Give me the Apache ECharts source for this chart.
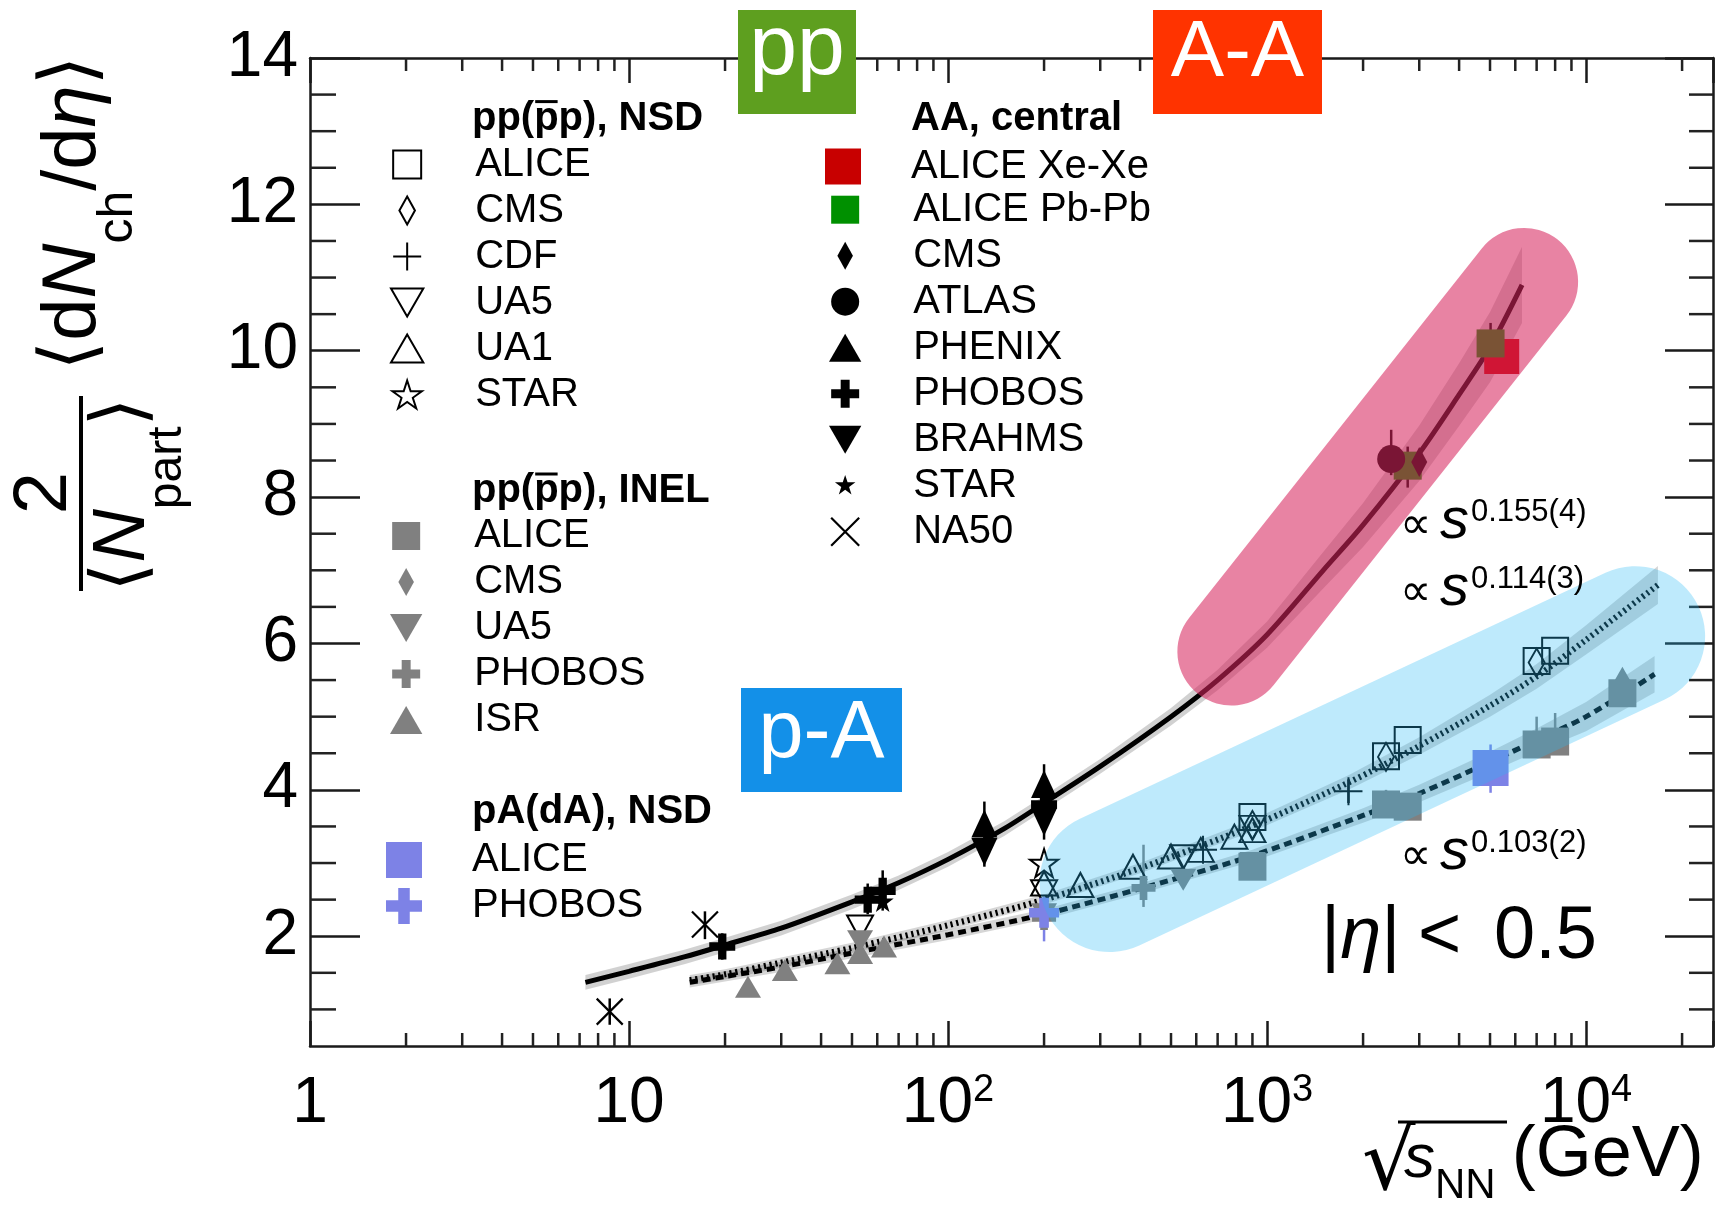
<!DOCTYPE html>
<html><head><meta charset="utf-8">
<script src="https://cdn.jsdelivr.net/npm/echarts@6/dist/echarts.min.js"></script>
<style>html,body{margin:0;padding:0;background:#fff}#c{width:1720px;height:1207px}</style>
</head><body><div id="c"></div>
<script>
const FONT = "'Liberation Sans', Arial, Helvetica, sans-serif";
const SYMF = "'DejaVu Sans', 'Liberation Sans', sans-serif";

// ---------- axes ----------
const xMin = 1, xMax = 25000, yMin = 0.5, yMax = 14;
const xTickValues = [1, 10, 100, 1000, 10000];
const xTickLabels = ['1', '10', '10^2', '10^3', '10^4'];
const yTickValues = [2, 4, 6, 8, 10, 12, 14];
const xMinorTicks = [2,3,4,5,6,7,8,9,20,30,40,50,60,70,80,90,200,300,400,500,600,700,800,900,2000,3000,4000,5000,6000,7000,8000,9000,20000];
const yMinorTicks = [1,1.5,2.5,3,3.5,4.5,5,5.5,6.5,7,7.5,8.5,9,9.5,10.5,11,11.5,12.5,13,13.5];

// ---------- pp(pbar) NSD ----------
const aliceNSD = [[900, 3.63], [2360, 4.46], [2760, 4.68], [7000, 5.76], [8000, 5.9]];
const cmsNSD = [[900, 3.52], [2360, 4.45], [7000, 5.74]];
const cdfNSD = [[630, 3.18], [1800, 3.98]];
const ua5NSD = [[53, 2.12], [200, 2.6], [546, 3.08], [900, 3.48]];
const ua1NSD = [[200, 2.72], [260, 2.7], [380, 2.95], [500, 3.09], [620, 3.18], [790, 3.36], [900, 3.45]];
const starNSD = [[200, 3.0]];
// ---------- pp(pbar) INEL ----------
const aliceINEL = [[900, 2.95], [2360, 3.8], [2760, 3.77], [7000, 4.62], [8000, 4.66], [13000, 5.32]];
const cmsINEL = [[13000, 5.49]];
const ua5INEL = [[53, 1.93], [200, 2.3], [546, 2.77], [900, 3.0]];
const phobosINEL = [[200, 2.25], [410, 2.66]];
const isrINEL = [[23.6, 1.31], [30.8, 1.54], [45, 1.63], [53, 1.77], [63, 1.86]];
// ---------- pA(dA) NSD ----------
const alicePPb = [[5020, 4.30]];
const phobosDAu = [[200, 2.32]];
// ---------- AA central ----------
const aliceXeXe = [[5440, 9.92]];
const alicePbPb = [[2760, 8.43], [5020, 10.1]];
const cmsAA = [[3000, 8.48]];
const atlasAA = [[2450, 8.52]];
const phenixAA = [[130, 3.54], [200, 4.08]];
const phobosAA = [[19.6, 1.86], [56, 2.5], [62.4, 2.62], [200, 3.8]];
const brahmsAA = [[130, 3.15], [200, 3.56]];
const starAA = [[62.4, 2.48], [200, 3.75]];
const na50AA = [[8.7, 0.97], [17.3, 2.16]];

// ---------- error bars [x, low, high] ----------
const errBlack = [[8.7, 0.79, 1.15], [17.3, 1.96, 2.34], [19.6, 1.68, 2.04], [56, 2.3, 2.72], [62.4, 2.35, 2.9], [130, 2.95, 3.84], [200, 3.32, 4.35], [1800, 3.82, 4.14], [2450, 8.3, 8.92], [2760, 8.13, 8.69], [5020, 9.85, 10.38]];
const errGray = [[410, 2.4, 3.25], [2360, 3.69, 4.0], [2760, 3.63, 3.95], [7000, 4.45, 5.0], [8000, 4.5, 5.05], [13000, 5.15, 5.65]];
const errBlue = [[200, 1.93, 2.54], [5020, 3.96, 4.62]];

// ---------- fits ----------
const aaE  = [7.3, 10, 15, 20, 30, 50, 70, 100, 150, 200, 300, 500, 700, 1000, 1500, 2000, 3000, 4000, 5000, 6300];
const aaV  = [1.37, 1.52, 1.72, 1.88, 2.11, 2.47, 2.73, 3.05, 3.47, 3.82, 4.32, 5.0, 5.5, 6.12, 7.0, 7.62, 8.6, 9.4, 10.05, 10.9];
const aaLo = [1.27, 1.42, 1.62, 1.78, 2.01, 2.37, 2.63, 2.95, 3.37, 3.72, 4.22, 4.88, 5.36, 5.94, 6.75, 7.32, 8.22, 8.97, 9.57, 10.38];
const aaHi = [1.47, 1.62, 1.82, 1.98, 2.21, 2.57, 2.83, 3.15, 3.57, 3.92, 4.42, 5.12, 5.64, 6.30, 7.25, 7.92, 8.98, 9.83, 10.53, 11.42];
const nsdE  = [15.5, 20, 30, 50, 100, 200, 400, 900, 1800, 3000, 5000, 7000, 10000, 16800];
const nsdV  = [1.40, 1.48, 1.64, 1.84, 2.15, 2.50, 2.93, 3.51, 4.10, 4.6, 5.15, 5.55, 6.05, 6.8];
const nsdLo = [1.33, 1.41, 1.57, 1.77, 2.08, 2.43, 2.86, 3.43, 4.0, 4.48, 5.0, 5.38, 5.85, 6.54];
const nsdHi = [1.47, 1.55, 1.71, 1.91, 2.22, 2.57, 3.0, 3.59, 4.2, 4.72, 5.3, 5.72, 6.25, 7.06];
const inelE  = [15.5, 20, 30, 50, 100, 200, 400, 900, 2000, 3000, 5000, 7000, 10000, 16400];
const inelV  = [1.37, 1.45, 1.58, 1.77, 2.02, 2.30, 2.65, 3.10, 3.65, 3.95, 4.38, 4.68, 5.0, 5.58];
const inelLo = [1.30, 1.38, 1.51, 1.70, 1.95, 2.23, 2.58, 3.02, 3.55, 3.83, 4.24, 4.52, 4.8, 5.33];
const inelHi = [1.44, 1.52, 1.65, 1.84, 2.09, 2.37, 2.72, 3.18, 3.75, 4.07, 4.52, 4.84, 5.2, 5.83];

// ---------- highlight capsules (end points in data space) ----------
const aaHighlight = [[773, 5.89], [6395, 10.94]];
const pAHighlight = [[321, 2.74], [14250, 6.10]];

// ---------- symbols ----------
const P = {
  SQ: 'path://M0,0H10V10H0Z',
  DIA: 'path://M5,0L10,9L5,18L0,9Z',
  PLUS: 'path://M5,0V10M0,5H10',
  TU: 'path://M5,0L10,8.66L0,8.66Z',
  TD: 'path://M0,0H10L5,8.66Z',
  STAR: 'path://M10,0L12.245,6.91L19.511,6.91L13.633,11.18L15.878,18.09L10,13.82L4.122,18.09L6.367,11.18L0.489,6.91L7.755,6.91Z',
  STARS: 'path://M-3,-3M23,23M10,0L12.245,6.91L19.511,6.91L13.633,11.18L15.878,18.09L10,13.82L4.122,18.09L6.367,11.18L0.489,6.91L7.755,6.91Z',
  CIR: 'path://M10,0A10,10,0,1,1,9.99,0Z',
  CROSS: 'path://M3.4,0H6.6V3.4H10V6.6H6.6V10H3.4V6.6H0V3.4H3.4Z',
  X: 'path://M0,0L10,10M10,0L0,10'
};
const GRAY = '#808080', BLUE = '#7D82E6';
const open = {color: 'rgba(0,0,0,0)', borderColor: '#000', borderWidth: 2, opacity: 1};
const fill = c => ({color: c, borderWidth: 0, opacity: 1});
const strokeOnly = (c, w) => ({color: 'rgba(0,0,0,0)', borderColor: c, borderWidth: w, opacity: 1});

const defs = [
  // name, label, data, symbol, size, style, legendIcon
  ['ALICE pp NSD', 'ALICE', aliceNSD, P.SQ, 26, open, P.SQ],
  ['CMS pp NSD', 'CMS', cmsNSD, P.DIA, [16, 28], open, P.DIA],
  ['CDF pp NSD', 'CDF', cdfNSD, P.PLUS, 28, strokeOnly('#000', 2), P.PLUS],
  ['UA5 pp NSD', 'UA5', ua5NSD, P.TD, [26, 24], open, P.TD],
  ['UA1 pp NSD', 'UA1', ua1NSD, P.TU, [26, 24], open, P.TU],
  ['STAR pp NSD', 'STAR', starNSD, P.STAR, 28, open, P.STAR],
  ['ALICE pp INEL', 'ALICE', aliceINEL, P.SQ, 28, fill(GRAY), P.SQ],
  ['CMS pp INEL', 'CMS', cmsINEL, P.DIA, [16, 28], fill(GRAY), P.DIA],
  ['UA5 pp INEL', 'UA5', ua5INEL, P.TD, [26, 22], fill(GRAY), P.TD],
  ['PHOBOS pp INEL', 'PHOBOS', phobosINEL, P.CROSS, 24, fill(GRAY), P.CROSS],
  ['ISR pp INEL', 'ISR', isrINEL, P.TU, [26, 22], fill(GRAY), P.TU],
  ['ALICE p-Pb NSD', 'ALICE', alicePPb, P.SQ, 36, fill(BLUE), P.SQ],
  ['PHOBOS d-Au NSD', 'PHOBOS', phobosDAu, P.CROSS, 30, fill(BLUE), P.CROSS],
  ['ALICE Xe-Xe', 'ALICE Xe-Xe', aliceXeXe, P.SQ, 35, fill('#C80000'), P.SQ],
  ['ALICE Pb-Pb', 'ALICE Pb-Pb', alicePbPb, P.SQ, 28, fill('#009000'), P.SQ],
  ['CMS AA', 'CMS', cmsAA, P.DIA, [16, 30], fill('#000'), P.DIA],
  ['ATLAS AA', 'ATLAS', atlasAA, 'circle', 28, fill('#000'), P.CIR],
  ['PHENIX AA', 'PHENIX', phenixAA, P.TU, [26, 28], fill('#000'), P.TU],
  ['PHOBOS AA', 'PHOBOS', phobosAA, P.CROSS, 26, fill('#000'), P.CROSS],
  ['BRAHMS AA', 'BRAHMS', brahmsAA, P.TD, [26, 28], fill('#000'), P.TD],
  ['STAR AA', 'STAR', starAA, P.STAR, 22, fill('#000'), P.STARS],
  ['NA50 AA', 'NA50', na50AA, P.X, 26, strokeOnly('#000', 2.2), P.X]
];
const labelOf = {};
defs.forEach(d => { labelOf[d[0]] = d[1]; });

// ---------- text helpers ----------
const MEAS = document.createElement('canvas').getContext('2d');
function tw(t, f) { MEAS.font = f; return MEAS.measureText(t).width; }
function fstr(p) { return (p.italic ? 'italic ' : '') + (p.bold ? 'bold ' : '') + p.size + 'px ' + (p.family || FONT); }
function mathRow(pieces, anchor) {
  let x = 0; const kids = [];
  pieces.forEach(p => {
    x += p.pre || 0;
    const f = fstr(p);
    kids.push({type: 'text', z: 100, x: x, y: -(p.rise || 0) - 0.3465 * p.size,
      style: {text: p.t, font: f, fill: p.fill || '#000', align: 'left', verticalAlign: 'middle'}});
    x += tw(p.t, f) + (p.post || 0);
  });
  const s = anchor === 'center' ? -x / 2 : anchor === 'right' ? -x : 0;
  kids.forEach(k => { k.x += s; });
  return kids;
}
function mathGroup(pieces, x, y, anchor, rotation) {
  return {type: 'group', x: x, y: y, rotation: rotation || 0, z: 100, children: mathRow(pieces, anchor)};
}
function titleWithBar(text, x, y, barAfter) {
  const f = 'bold 40px ' + FONT;
  const els = [{type: 'text', z: 100, x: x, y: y, style: {text: text, font: f, fill: '#000', align: 'left', verticalAlign: 'middle'}}];
  if (barAfter) {
    const x0 = x + tw(barAfter, f), x1 = x0 + tw('p', f);
    els.push({type: 'line', z: 100, shape: {x1: x0 + 1, y1: y - 17, x2: x1 - 1, y2: y - 17}, style: {stroke: '#000', lineWidth: 3}});
  }
  return els;
}

// ---------- series ----------
const series = [];
function band(E, lo, hi, color) {
  series.push({type: 'custom', z: 1, silent: true, clip: true, data: [[E[0], lo[0]]],
    renderItem: (params, api) => {
      const pts = [];
      for (let i = 0; i < E.length; i++) pts.push(api.coord([E[i], hi[i]]));
      for (let i = E.length - 1; i >= 0; i--) pts.push(api.coord([E[i], lo[i]]));
      return {type: 'polygon', shape: {points: pts}, style: {fill: color}};
    }});
}
band(aaE, aaLo, aaHi, 'rgba(0,0,0,0.18)');
band(nsdE, nsdLo, nsdHi, 'rgba(0,0,0,0.16)');
band(inelE, inelLo, inelHi, 'rgba(0,0,0,0.16)');
function fit(E, V, width, type) {
  series.push({type: 'line', z: 2, silent: true, symbol: 'none', showSymbol: false, smooth: 0.3,
    data: E.map((e, i) => [e, V[i]]), lineStyle: {color: '#000', width: width, type: type, cap: 'butt'}});
}
fit(aaE, aaV, 5, 'solid');
fit(nsdE, nsdV, 6, [2.2, 3.6]);
fit(inelE, inelV, 5, [8, 5]);

function errors(data, color) {
  series.push({type: 'custom', z: 3, silent: true, data: data, encode: {x: 0, y: [1, 2]},
    renderItem: (params, api) => {
      const a = api.coord([api.value(0), api.value(1)]);
      const b = api.coord([api.value(0), api.value(2)]);
      return {type: 'line', shape: {x1: a[0], y1: a[1], x2: b[0], y2: b[1]}, style: {stroke: color, lineWidth: 2.5}};
    }});
}
errors(errGray, GRAY);
errors(errBlue, BLUE);
errors(errBlack, '#000');

defs.forEach(d => {
  series.push({type: 'scatter', name: d[0], data: d[2], symbol: d[3], symbolSize: d[4],
    itemStyle: d[5], z: 4, silent: true});
});

function capsule(data, width, color) {
  series.push({type: 'line', z: 6, silent: true, clip: false, symbol: 'none', showSymbol: false, data: data,
    lineStyle: {width: width, color: color, cap: 'round'}});
}
capsule(aaHighlight, 108, 'rgba(214,37,93,0.57)');
capsule(pAHighlight, 140, 'rgba(40,185,245,0.30)');

// minor ticks on all four sides
series.push({type: 'custom', z: 1, silent: true, data: xMinorTicks.map(v => [v, yMin]),
  renderItem: (params, api) => {
    const v = api.value(0), b = api.coord([v, yMin]), t = api.coord([v, yMax]);
    const st = {stroke: '#222', lineWidth: 2.5};
    return {type: 'group', children: [
      {type: 'line', shape: {x1: b[0], y1: b[1], x2: b[0], y2: b[1] - 13}, style: st},
      {type: 'line', shape: {x1: t[0], y1: t[1], x2: t[0], y2: t[1] + 13}, style: st}]};
  }});
series.push({type: 'custom', z: 1, silent: true, data: yMinorTicks.map(v => [xMin, v]),
  renderItem: (params, api) => {
    const v = api.value(1), l = api.coord([xMin, v]), r = api.coord([xMax, v]);
    const st = {stroke: '#222', lineWidth: 2.5};
    return {type: 'group', children: [
      {type: 'line', shape: {x1: l[0], y1: l[1], x2: l[0] + 26, y2: l[1]}, style: st},
      {type: 'line', shape: {x1: r[0], y1: r[1], x2: r[0] - 24, y2: r[1]}, style: st}]};
  }});

// ---------- legends ----------
function legendItems(names) {
  return names.map(n => {
    const d = defs.find(x => x[0] === n);
    return {name: n, icon: d[6], itemStyle: Object.assign({}, d[5])};
  });
}
function legend(names, left, top, h) {
  return {data: legendItems(names), orient: 'vertical', left: left, top: top, padding: 0,
    itemWidth: 126, itemHeight: h, itemGap: 6, selectedMode: false,
    formatter: n => labelOf[n], textStyle: {fontSize: 40, fontFamily: FONT, color: '#000'}};
}
const legends = [
  legend(['ALICE pp NSD', 'CMS pp NSD', 'CDF pp NSD', 'UA5 pp NSD', 'UA1 pp NSD', 'STAR pp NSD'], 390, 144.5, 28),
  legend(['ALICE pp INEL', 'CMS pp INEL', 'UA5 pp INEL', 'PHOBOS pp INEL', 'ISR pp INEL'], 390, 516, 28),
  legend(['ALICE p-Pb NSD', 'PHOBOS d-Au NSD'], 386, 840, 36),
  legend(['ALICE Xe-Xe'], 825, 146.5, 36),
  legend(['ALICE Pb-Pb', 'CMS AA', 'ATLAS AA', 'PHENIX AA', 'PHOBOS AA', 'BRAHMS AA', 'STAR AA', 'NA50 AA'], 829, 189.7, 28)
];

// ---------- graphic (titles, annotations) ----------
const graphics = [];
[].push.apply(graphics, titleWithBar('pp(pp), NSD', 472, 118.6, 'pp('));
[].push.apply(graphics, titleWithBar('pp(pp), INEL', 472, 491, 'pp('));
[].push.apply(graphics, titleWithBar('pA(dA), NSD', 472, 812, null));
[].push.apply(graphics, titleWithBar('AA, central', 911, 118.6, null));

// y-axis title (rotated)
graphics.push(mathGroup([
  {t: '\u27E8', size: 76, family: SYMF}, {t: 'd', size: 76}, {t: 'N', size: 76, italic: true},
  {t: 'ch', size: 50, rise: -36}, {t: '/d', size: 76}, {t: '\u03B7', size: 76, italic: true},
  {t: '\u27E9', size: 76, family: SYMF}], 100, 213, 'center', Math.PI / 2));
graphics.push(mathGroup([{t: '2', size: 76}], 71, 493, 'center', Math.PI / 2));
graphics.push({type: 'line', z: 100, shape: {x1: 81, y1: 396, x2: 81, y2: 591}, style: {stroke: '#000', lineWidth: 4}});
graphics.push(mathGroup([
  {t: '\u27E8', size: 74, family: SYMF}, {t: 'N', size: 74, italic: true},
  {t: 'part', size: 48, rise: -35}, {t: '\u27E9', size: 74, family: SYMF}], 149, 494.5, 'center', Math.PI / 2));

// x-axis title
graphics.push({type: 'text', z: 100, x: 1362, y: 1196 - 0.3465 * 84,
  style: {text: '\u221A', font: '84px ' + SYMF, fill: '#000', align: 'left', verticalAlign: 'middle'}});
graphics.push({type: 'line', z: 100, shape: {x1: 1398, y1: 1122, x2: 1507, y2: 1122}, style: {stroke: '#000', lineWidth: 3}});
graphics.push(mathGroup([
  {t: 's', size: 62, italic: true}, {t: 'NN', size: 42, rise: -20}, {t: '(GeV)', size: 72, pre: 16}], 1404, 1181, 'left'));

// power-law annotations
const expLabels = ['0.155(4)', '0.114(3)', '0.103(2)'];
const expBaselines = [542, 609, 873];
expLabels.forEach((e, i) => {
  graphics.push(mathGroup([{t: '\u221D', size: 44, family: SYMF}], 1400, expBaselines[i], 'left'));
  graphics.push(mathGroup([{t: 's', size: 58, italic: true}, {t: e, size: 31, rise: 19, pre: 2}], 1440, expBaselines[i], 'left'));
});
// |eta| < 0.5
graphics.push(mathGroup([{t: '|', size: 74}, {t: '\u03B7', size: 74, italic: true}, {t: '|', size: 74}], 1321, 963, 'left'));
graphics.push(mathGroup([{t: '<', size: 74}], 1418, 963, 'left'));
graphics.push(mathGroup([{t: '0.5', size: 74}], 1494, 963, 'left'));

// collision-system tags
function tag(text, x, y, w, h, color, size, baseline) {
  graphics.push({type: 'rect', z: 100, shape: {x: x, y: y, width: w, height: h}, style: {fill: color}});
  graphics.push({type: 'text', z: 101, x: x + w / 2, y: baseline - 0.3465 * size,
    style: {text: text, font: size + 'px ' + FONT, fill: '#fff', align: 'center', verticalAlign: 'middle'}});
}
tag('pp', 738, 10, 118, 104, '#5E9F1F', 86, 80);
tag('A-A', 1153, 10, 169, 104, '#FF3300', 80, 82);
tag('p-A', 741, 688, 161, 104, '#1390E8', 81, 763);

// ---------- axes ----------
function xLabel(v) {
  for (let i = 0; i < xTickValues.length; i++) {
    if (Math.abs(Math.log10(v) - Math.log10(xTickValues[i])) < 1e-6) {
      const s = xTickLabels[i];
      if (s.indexOf('^') >= 0) { const p = s.split('^'); return '{b|' + p[0] + '}{s|' + p[1] + '}'; }
      return '{b|' + s + '}';
    }
  }
  return '';
}
const axisLine = {show: true, onZero: false, lineStyle: {color: '#1a1a1a', width: 2.5}};
const option = {
  animation: false,
  backgroundColor: '#fff',
  grid: {left: 310, top: 58, right: 7, bottom: 161, containLabel: false, outerBoundsMode: 'none'},
  xAxis: [
    {type: 'log', logBase: 10, min: xMin, max: xMax, position: 'bottom', axisLine: axisLine,
      axisTick: {show: true, inside: true, length: 25, lineStyle: {color: '#1a1a1a', width: 2.5}},
      splitLine: {show: false}, minorTick: {show: false},
      axisLabel: {show: true, margin: 26, fontSize: 64, fontFamily: FONT, color: '#000', formatter: xLabel,
        showMinLabel: true, showMaxLabel: true, hideOverlap: false,
        rich: {b: {fontSize: 64, fontFamily: FONT, color: '#000', lineHeight: 64},
               s: {fontSize: 38, fontFamily: FONT, color: '#000', lineHeight: 28, verticalAlign: 'top'}}}},
    {type: 'log', logBase: 10, min: xMin, max: xMax, position: 'top', axisLine: axisLine,
      axisTick: {show: true, inside: true, length: 25, lineStyle: {color: '#1a1a1a', width: 2.5}},
      splitLine: {show: false}, axisLabel: {show: false}}
  ],
  yAxis: [
    {type: 'value', min: yMin, max: yMax, position: 'left', axisLine: axisLine, splitLine: {show: false},
      axisTick: {show: true, inside: true, length: 50, customValues: yTickValues, lineStyle: {color: '#1a1a1a', width: 2.5}},
      axisLabel: {show: true, margin: 12, fontSize: 64, fontFamily: FONT, color: '#000', customValues: yTickValues,
        formatter: v => String(v)}},
    {type: 'value', min: yMin, max: yMax, position: 'right', axisLine: axisLine, splitLine: {show: false},
      axisTick: {show: true, inside: true, length: 48, customValues: yTickValues, lineStyle: {color: '#1a1a1a', width: 2.5}},
      axisLabel: {show: false}}
  ],
  legend: legends,
  graphic: {elements: graphics},
  series: series
};
const chart = echarts.init(document.getElementById('c'), null, {renderer: 'canvas'});
chart.setOption(option);
</script></body></html>
